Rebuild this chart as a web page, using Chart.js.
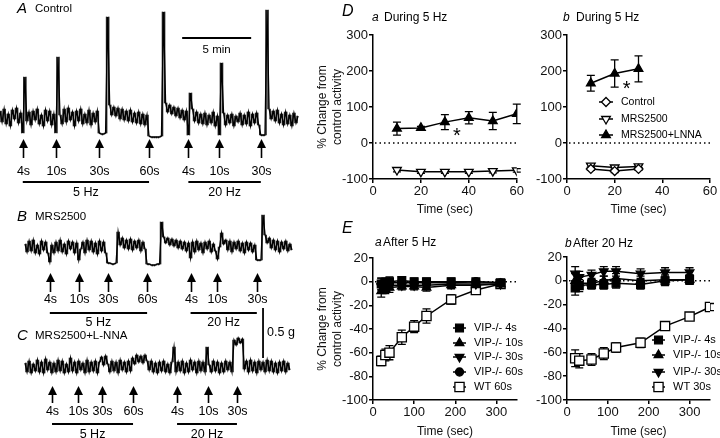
<!DOCTYPE html>
<html>
<head>
<meta charset="utf-8">
<script src="https://cdn.jsdelivr.net/npm/chart.js@4.4.1/dist/chart.umd.min.js"></script>
<style>
    html, body { margin: 0; padding: 0; background: #fff; }
    #wrap { position: relative; width: 720px; height: 438px; overflow: hidden; }
    canvas { position: absolute; }
</style>
</head>
<body>
<div id="wrap">
    <canvas id="traces" width="340" height="438" style="left:0;top:0;width:340px;height:438px"></canvas>
    <canvas id="dA" width="214" height="220" style="left:311px;top:0;width:214px;height:220px"></canvas>
    <canvas id="dB" width="195" height="220" style="left:525px;top:0;width:195px;height:220px"></canvas>
    <canvas id="eA" width="214" height="218" style="left:311px;top:220px;width:214px;height:218px"></canvas>
    <canvas id="eB" width="195" height="218" style="left:525px;top:220px;width:195px;height:218px"></canvas>
</div>
<script>
// ---------- force traces (g, relative to resting tone), one sample every 0.15 min
const sampleStep = 0.15;
const controlStart = 0;
const controlTrace = [
    0.06, -0.05, 0.08, -0.07, 0.03, -0.09, 0.07, -0.02, 0.09, -0.06, 0.04,
    -0.16, 0.40,
    -0.04, 0.05, -0.08, 0.06, -0.03, 0.08, -0.07, 0.02, -0.09, 0.07, -0.04, 0.06, -0.08, 0.03,
    -0.16, 0.60,
    0.02, -0.07, 0.08, -0.05, 0.09, -0.03, 0.05, -0.09, 0.06, -0.04, 0.08, -0.07, 0.03, -0.06, 0.07, -0.08, 0.04, -0.05, 0.06,
    -0.16, -0.17, -0.17, -0.16,
    1.00,
    0.12, 0.02, 0.10, 0.01, 0.09, -0.02, 0.08, -0.03, 0.06, -0.04, 0.07, -0.05, 0.04, -0.06, 0.05, -0.07, 0.03, -0.08, 0.02,
    -0.19, -0.20, -0.20, -0.20, -0.20, -0.20, -0.19,
    1.05,
    0.14, 0.05, 0.12, 0.03, 0.10, 0.01, 0.09, -0.01, 0.07, -0.03, 0.06,
    -0.18, 0.24,
    0.08, -0.04, 0.05, -0.06, 0.03, -0.07, 0.04, -0.08, 0.02, -0.06, 0.05, -0.09, 0.01,
    -0.18, 0.54,
    0.04, -0.08, 0.02, -0.06, 0.03, -0.09, 0.01, -0.05, 0.04, -0.08, 0.02, -0.07, 0.05, -0.09, 0.03, -0.06, 0.04, -0.08,
    -0.18, -0.18, -0.18,
    1.07,
    0.08, -0.02, 0.06, -0.04, 0.07, -0.06, 0.03, -0.08, 0.05, -0.07, 0.02, -0.09, 0.04, -0.06, 0.01
];
const mrsStart = 1.81;
const mrsTrace = [
    0.03, -0.05, 0.06, -0.04, 0.07, -0.06, 0.02, -0.07, 0.06, -0.03, 0.05, -0.06,
    -0.15,
    0.02, -0.06, 0.05, -0.04, 0.07, -0.05, 0.03, -0.07, 0.06, -0.02, 0.05, -0.06, 0.04,
    -0.13,
    -0.02, 0.05, -0.06, 0.07, -0.03, 0.06, -0.05, 0.04, -0.07, 0.06, -0.04, 0.05, -0.06,
    -0.16, -0.16, -0.17, -0.17, -0.16,
    0.15,
    0.02, 0.09, -0.01, 0.07, -0.02, 0.08, -0.03, 0.06, -0.01, 0.07, -0.04, 0.05, -0.02,
    -0.17, -0.17, -0.18, -0.18, -0.18, -0.17, -0.17,
    0.25,
    0.10, 0.04, 0.09, 0.02, 0.08, 0.01, 0.07, -0.01, 0.06, -0.02, 0.05, -0.04, 0.04,
    -0.11,
    0.05, -0.05, 0.06, -0.03, 0.04, -0.06, 0.05, -0.02, 0.06, -0.05, 0.03, -0.04,
    -0.12, 0.00, 0.14,
    0.03, 0.07, -0.03, 0.06, -0.05, 0.05, -0.02, 0.06, -0.04, 0.04, -0.06, 0.05, -0.03, 0.04, -0.05, 0.02,
    -0.13, -0.13, -0.13,
    0.32,
    0.12, 0.04, 0.09, -0.01, 0.07, -0.03, 0.06, -0.05, 0.05, -0.02, 0.06, -0.04, 0.03, -0.03
];
const lnnaStart = 1.81;
const lnnaTrace = [
    0.04, -0.05, 0.06, -0.06, 0.03, -0.04, 0.07, -0.05, 0.05, -0.06, 0.08, -0.03, 0.05, -0.06, 0.04, -0.05,
    0.07, -0.04, 0.06, -0.06, 0.03, -0.05, 0.09, -0.04, 0.05, -0.06, 0.06, -0.03, 0.04, -0.06, 0.07, -0.05,
    0.05, -0.04, 0.06, -0.06, 0.05,
    0.10, 0.02, 0.11, 0.03,
    -0.05, 0.06, -0.04, 0.05, -0.06, 0.07, -0.03, 0.05, -0.05, 0.06, -0.04,
    0.09, 0.03, 0.12, 0.05, 0.11, 0.04, 0.12, 0.06,
    -0.03, 0.06, -0.05, 0.04, -0.06, 0.05, -0.04, 0.06, -0.05, 0.03, -0.06, 0.05,
    0.20,
    -0.05, 0.05, -0.04, 0.06, -0.06, 0.04, -0.05, 0.07, -0.03, 0.05, -0.06, 0.06, -0.04, 0.05, -0.05,
    0.20,
    0.02, -0.05, 0.06, -0.04, 0.05, -0.06, 0.04, -0.05, 0.06, -0.03, 0.05, -0.05,
    0.27, 0.22, 0.29, 0.24, 0.28,
    -0.02, 0.06, -0.05, 0.07, -0.04, 0.05, -0.06, 0.06, -0.03, 0.05, -0.05, 0.07, -0.04, 0.06, -0.05, 0.04,
    -0.06, 0.05, -0.04, 0.06, -0.05, 0.04, -0.03
];
// stimulus onsets (min)
const controlStims = [1.65, 4.05, 7.2, 10.8, 13.65, 15.9, 18.9];
const mrsStims = [3.61, 5.71, 7.81, 10.66, 13.81, 15.76, 18.61];
const lnnaStims = [3.77, 5.65, 7.39, 9.64, 12.83, 15.07, 17.17];
const stimLabels = ['4s', '10s', '30s', '60s', '4s', '10s', '30s'];
const freqGroups = [[0, 3, '5 Hz'], [4, 6, '20 Hz']];

// ---------- D: responses during stimulation
const dTimesA = [10, 20, 30, 40, 50, 60];
const dA_mrs = [-75, -80, -80, -80, -78, -76];
const dA_mrsErr = [5, 4, 4, 4, 5, 5];
const dA_lnna = [40, 42, 58, 70, 61, 81];
const dA_lnnaErr = [18, 4, 21, 17, 24, 27];
const dTimesB = [10, 20, 30];
const dB_ctrl = [-72, -78, -72];
const dB_ctrlErr = [4, 4, 4];
const dB_mrs = [-63, -68, -65];
const dB_mrsErr = [4, 4, 4];
const dB_lnna = [166, 193, 206];
const dB_lnnaErr = [22, 38, 36];
const dXTicks = [0, 20, 40, 60];
const dYTicks = [-100, 0, 100, 200, 300];

// ---------- E: responses after stimulation
const eTimesA = [20, 30, 40, 70, 100, 130, 190, 250, 310];
const eA_vip4 = [-2, -1, 0, 1, 0, 0, 0, 0, -1];
const eA_vip10 = [-8, -6, -5, -4, -4, -5, -3, -3, -2];
const eA_vip30 = [-4, -4, -3, -3, -3, -3, -2, -2, -2];
const eA_vip60 = [-2, -2, -1, -1, -1, -1, -1, 0, -1];
const eA_vipErr = [5, 4, 4, 3, 3, 3, 3, 2, 2];
const eA_wt = [-67, -62, -60, -47, -38, -29, -15, -7, -2];
const eA_wtErr = [4, 5, 6, 6, 5, 6, 4, 3, 2];
const eTimesB = [20, 30, 60, 90, 120, 180, 240, 300];
const eB_vip4 = [-6, -4, -3, -3, -2, -3, 0, 1];
const eB_vip10 = [0, -2, -2, 0, 2, 0, 1, 1];
const eB_vip30 = [6, 3, 5, 8, 8, 6, 7, 7];
const eB_vipErr = [6, 5, 4, 4, 4, 4, 4, 4];
const eTimesB_wt = [20, 30, 60, 90, 120, 180, 240, 300, 350];
const eB_wt = [-65, -67, -66, -61, -56, -52, -38, -30, -22];
const eB_wtErr = [7, 6, 5, 5, 4, 4, 3, 3, 3];
const eXTicks = [0, 100, 200, 300];
const eYTicks = [-100, -80, -60, -40, -20, 0, 20];

const FONT = '"Liberation Sans", Arial, sans-serif';
Chart.defaults.font.family = FONT;
Chart.defaults.color = '#111';

// ---------- left: traces
const toPoints = (start, values) => values.map((v, i) => ({ x: start + i * sampleStep, y: v }));
// span covered by each step of the pen (thin strokes make the noise read as a dense band)
const toSpans = (start, values) => values.slice(1).map((v, i) => ({
    x: start + (i + 0.5) * sampleStep,
    y: [Math.min(v, values[i]), Math.max(v, values[i])]
}));

const traceNotes = [
    { axis: 'yA', letter: 'A', name: 'Control', lx: 17, ly: 9, stims: controlStims,
      tip: -0.23, tail: -0.41, label: -0.55, bar: -0.65, barLabel: -0.76 },
    { axis: 'yB', letter: 'B', name: 'MRS2500', lx: 17, ly: 217, stims: mrsStims,
      tip: -0.27, tail: -0.45, label: -0.53, bar: -0.66, barLabel: -0.76 },
    { axis: 'yC', letter: 'C', name: 'MRS2500+L-NNA', lx: 17, ly: 336, stims: lnnaStims,
      tip: -0.20, tail: -0.36, label: -0.45, bar: -0.57, barLabel: -0.68 }
];

const traceDeco = {
    id: 'traceDeco',
    afterDatasetsDraw(chart) {
        const ctx = chart.ctx;
        const xs = chart.scales.x;
        ctx.save();
        ctx.fillStyle = '#000';
        ctx.strokeStyle = '#000';
        traceNotes.forEach((n) => {
            const ys = chart.scales[n.axis];
            ctx.textBaseline = 'middle';
            ctx.textAlign = 'left';
            ctx.font = 'italic 15px ' + FONT;
            ctx.fillText(n.letter, n.lx, n.ly);
            ctx.font = '11.5px ' + FONT;
            ctx.fillText(n.name, n.lx + 18, n.ly);

            const tip = ys.getPixelForValue(n.tip);
            const tail = ys.getPixelForValue(n.tail);
            ctx.lineWidth = 1.6;
            ctx.textAlign = 'center';
            ctx.font = '12.5px ' + FONT;
            n.stims.forEach((t, i) => {
                const px = Math.round(xs.getPixelForValue(t)) + 0.5;
                ctx.beginPath();
                ctx.moveTo(px, tail);
                ctx.lineTo(px, tip + 5);
                ctx.stroke();
                ctx.beginPath();
                ctx.moveTo(px, tip - 1);
                ctx.lineTo(px - 4.5, tip + 8);
                ctx.lineTo(px + 4.5, tip + 8);
                ctx.closePath();
                ctx.fill();
                ctx.fillText(stimLabels[i], px, ys.getPixelForValue(n.label));
            });
            const by = ys.getPixelForValue(n.bar);
            ctx.lineWidth = 1.8;
            freqGroups.forEach(([a, b, txt]) => {
                const x0 = xs.getPixelForValue(n.stims[a]);
                const x1 = xs.getPixelForValue(n.stims[b]);
                ctx.beginPath();
                ctx.moveTo(x0, by);
                ctx.lineTo(x1, by);
                ctx.stroke();
                ctx.fillText(txt, (x0 + x1) / 2, ys.getPixelForValue(n.barLabel));
            });
        });

        // calibration bars: 5 min and 0.5 g
        const yA = chart.scales.yA;
        const yC = chart.scales.yC;
        const t0 = 13.2;
        const ty = yA.getPixelForValue(0.79);
        ctx.lineWidth = 1.8;
        ctx.beginPath();
        ctx.moveTo(xs.getPixelForValue(t0), ty);
        ctx.lineTo(xs.getPixelForValue(t0 + 5), ty);
        ctx.stroke();
        ctx.font = '11.5px ' + FONT;
        ctx.fillText('5 min', xs.getPixelForValue(t0 + 2.5), ty + 12);
        const gx = xs.getPixelForValue(19.06);
        ctx.beginPath();
        ctx.moveTo(gx, yC.getPixelForValue(0.09));
        ctx.lineTo(gx, yC.getPixelForValue(0.59));
        ctx.stroke();
        ctx.textAlign = 'left';
        ctx.font = '12.5px ' + FONT;
        ctx.fillText('0.5 g', gx + 4, yC.getPixelForValue(0.34));
        ctx.restore();
    }
};

const traceLine = (data, yAxisID) => ({
    type: 'line', data, yAxisID, xAxisID: 'x',
    borderColor: '#000', borderWidth: 1.3, pointRadius: 0, tension: 0, fill: false
});
const traceSpan = (data, yAxisID) => ({
    type: 'bar', data, yAxisID, xAxisID: 'x',
    backgroundColor: '#222', borderWidth: 0, barThickness: 0.9, minBarLength: 1, grouped: false
});

new Chart(document.getElementById('traces'), {
    type: 'line',
    data: {
        datasets: [
            traceLine(toPoints(controlStart, controlTrace), 'yA'),
            traceLine(toPoints(mrsStart, mrsTrace), 'yB'),
            traceLine(toPoints(lnnaStart, lnnaTrace), 'yC'),
            traceSpan(toSpans(controlStart, controlTrace), 'yA'),
            traceSpan(toSpans(mrsStart, mrsTrace), 'yB'),
            traceSpan(toSpans(lnnaStart, lnnaTrace), 'yC')
        ]
    },
    options: {
        responsive: false, animation: false, devicePixelRatio: 1,
        layout: { padding: 0 },
        plugins: { legend: { display: false }, tooltip: { enabled: false } },
        scales: {
            x: { type: 'linear', display: false, offset: false, min: 0, max: 340 / 13.8 },
            yA: { type: 'linear', display: false, min: -3.21, max: 1.17 },
            yB: { type: 'linear', display: false, min: -1.91, max: 2.47 },
            yC: { type: 'linear', display: false, min: -0.71, max: 3.67 }
        }
    },
    plugins: [traceDeco]
});

// ---------- right: summary graphs
const marks = {
    upFilled: { shape: 'triangle', rot: 0, fill: '#000', r: 5 },
    downOpen: { shape: 'triangle', rot: 180, fill: '#fff', r: 5 },
    downFilled: { shape: 'triangle', rot: 180, fill: '#000', r: 5 },
    diamondOpen: { shape: 'rectRot', rot: 0, fill: '#fff', r: 4.5 },
    squareFilled: { shape: 'rect', rot: 0, fill: '#000', r: 5.5 },
    squareOpen: { shape: 'rect', rot: 0, fill: '#fff', r: 6.5 },
    circleFilled: { shape: 'circle', rot: 0, fill: '#000', r: 4 }
};

const series = (label, xs, ys, errs, m) => ({
    label,
    data: xs.map((x, i) => ({ x, y: ys[i] })),
    errors: errs,
    mark: m,
    borderColor: '#000', borderWidth: 1.5, tension: 0, fill: false,
    pointStyle: m.shape, pointRotation: m.rot, pointRadius: m.r,
    pointBackgroundColor: m.fill, pointBorderColor: '#000', pointBorderWidth: 1.3
});

const errorBars = {
    id: 'errorBars',
    beforeDatasetsDraw(chart) {
        const ctx = chart.ctx;
        const xs = chart.scales.x, ys = chart.scales.y;
        ctx.save();
        ctx.strokeStyle = '#000';
        ctx.lineWidth = 1.3;
        chart.data.datasets.forEach((ds) => {
            ds.data.forEach((p, i) => {
                const e = ds.errors[i];
                const px = xs.getPixelForValue(p.x);
                const top = ys.getPixelForValue(p.y + e);
                const bot = ys.getPixelForValue(p.y - e);
                ctx.beginPath();
                ctx.moveTo(px, top); ctx.lineTo(px, bot);
                ctx.moveTo(px - 4, top); ctx.lineTo(px + 4, top);
                ctx.moveTo(px - 4, bot); ctx.lineTo(px + 4, bot);
                ctx.stroke();
            });
        });
        ctx.restore();
    }
};

const panelDeco = {
    id: 'panelDeco',
    beforeDatasetsDraw(chart, args, o) {
        // dotted zero line
        const ctx = chart.ctx;
        const ys = chart.scales.y;
        const y0 = ys.getPixelForValue(0);
        ctx.save();
        ctx.strokeStyle = '#000';
        ctx.lineWidth = 1.5;
        ctx.setLineDash([1.5, 3]);
        ctx.beginPath();
        ctx.moveTo(chart.chartArea.left + 2, y0);
        ctx.lineTo(chart.chartArea.right, y0);
        ctx.stroke();
        ctx.restore();
    },
    afterDatasetsDraw(chart, args, o) {
        const ctx = chart.ctx;
        const xs = chart.scales.x, ys = chart.scales.y;
        ctx.save();
        ctx.fillStyle = '#000';
        ctx.textBaseline = 'middle';
        ctx.textAlign = 'left';
        if (o.letter) {
            ctx.font = 'italic 16px ' + FONT;
            ctx.fillText(o.letter[0], o.letter[1], o.letter[2]);
        }
        ctx.font = 'italic 12px ' + FONT;
        ctx.fillText(o.title[0], o.title[2], o.title[3]);
        ctx.font = '12px ' + FONT;
        ctx.fillText(o.title[1], o.title[4], o.title[3]);

        (o.stars || []).forEach(([sx, sy]) => {
            ctx.font = '20px ' + FONT;
            ctx.textAlign = 'center';
            ctx.fillText('*', xs.getPixelForValue(sx), ys.getPixelForValue(sy) + 4);
        });

        const lg = o.legend;
        if (lg) {
            ctx.textAlign = 'left';
            ctx.font = lg.size + 'px ' + FONT;
            lg.items.forEach((di, k) => {
                const ds = chart.data.datasets[di];
                const y = lg.rows[k];
                ctx.strokeStyle = '#000';
                ctx.lineWidth = 1.5;
                ctx.beginPath();
                ctx.moveTo(lg.x, y); ctx.lineTo(lg.x + lg.len, y);
                ctx.stroke();
                ctx.fillStyle = ds.mark.fill;
                ctx.lineWidth = 1.3;
                Chart.helpers.drawPoint(ctx, { pointStyle: ds.mark.shape, rotation: ds.mark.rot, radius: ds.mark.r, borderWidth: 1.3 },
                    lg.x + lg.len / 2, y);
                ctx.fillStyle = '#000';
                ctx.fillText(ds.label, lg.x + lg.len + 8, y);
            });
        }
        ctx.restore();
    }
};

function buildPanel(id, c) {
    return new Chart(document.getElementById(id), {
        type: 'line',
        data: { datasets: c.datasets },
        options: {
            responsive: false, animation: false, devicePixelRatio: 1,
            layout: { padding: c.padding },
            plugins: { legend: { display: false }, tooltip: { enabled: false }, panelDeco: c.deco },
            scales: {
                x: {
                    type: 'linear', min: 0, max: c.xMax,
                    afterBuildTicks: (s) => { s.ticks = c.xTicks.map((v) => ({ value: v })); },
                    afterFit: (s) => { s.height = c.xHeight; },
                    ticks: { font: { size: 13 }, color: '#111', padding: 1, maxRotation: 0 },
                    grid: { drawOnChartArea: false, drawTicks: true, tickLength: 4, color: '#000', lineWidth: 1.5 },
                    border: { display: true, color: '#000', width: 1.5 },
                    title: { display: true, text: 'Time (sec)', font: { size: 12, lineHeight: 1.0 }, color: '#111',
                        padding: { top: 0, bottom: c.xTitlePad } }
                },
                y: {
                    type: 'linear', min: c.yMin, max: c.yMax,
                    afterBuildTicks: (s) => { s.ticks = c.yTicks.map((v) => ({ value: v })); },
                    afterFit: (s) => { s.width = c.yWidth; },
                    ticks: { font: { size: 13 }, color: '#111', padding: 1 },
                    grid: { drawOnChartArea: false, drawTicks: true, tickLength: 4, color: '#000', lineWidth: 1.5 },
                    border: { display: true, color: '#000', width: 1.5 },
                    title: c.yTitle
                        ? { display: true, text: ['% Change from', 'control activity'], font: { size: 12, lineHeight: 1.25 },
                            color: '#111', padding: { top: 4, bottom: 0 } }
                        : { display: false }
                }
            }
        },
        plugins: [errorBars, panelDeco]
    });
}

buildPanel('dA', {
    datasets: [
        series('MRS2500', dTimesA, dA_mrs, dA_mrsErr, marks.downOpen),
        series('MRS2500+LNNA', dTimesA, dA_lnna, dA_lnnaErr, marks.upFilled)
    ],
    padding: { top: 35, right: 8, left: 0, bottom: 0 },
    xMax: 60, xTicks: dXTicks, xHeight: 41, xTitlePad: 4,
    yMin: -100, yMax: 300, yTicks: dYTicks, yWidth: 62, yTitle: true,
    deco: { letter: ['D', 31, 12], title: ['a', 'During 5 Hz', 61, 18, 73], stars: [[35, 28]] }
});

buildPanel('dB', {
    datasets: [
        series('Control', dTimesB, dB_ctrl, dB_ctrlErr, marks.diamondOpen),
        series('MRS2500', dTimesB, dB_mrs, dB_mrsErr, marks.downOpen),
        series('MRS2500+LNNA', dTimesB, dB_lnna, dB_lnnaErr, marks.upFilled)
    ],
    padding: { top: 35, right: 10, left: 0, bottom: 0 },
    xMax: 60, xTicks: dXTicks, xHeight: 41, xTitlePad: 4,
    yMin: -100, yMax: 300, yTicks: dYTicks, yWidth: 42, yTitle: false,
    deco: { title: ['b', 'During 5 Hz', 38, 18, 51], stars: [[25, 161]],
        legend: { x: 74, len: 14, size: 10.5, rows: [102, 119, 135], items: [0, 1, 2] } }
});

buildPanel('eA', {
    datasets: [
        series('VIP-/- 4s', eTimesA, eA_vip4, eA_vipErr, marks.squareFilled),
        series('VIP-/- 10s', eTimesA, eA_vip10, eA_vipErr, marks.upFilled),
        series('VIP-/- 30s', eTimesA, eA_vip30, eA_vipErr, marks.downFilled),
        series('VIP-/- 60s', eTimesA, eA_vip60, eA_vipErr, marks.circleFilled),
        series('WT 60s', eTimesA, eA_wt, eA_wtErr, marks.squareOpen)
    ],
    padding: { top: 38, right: 8, left: 0, bottom: 0 },
    xMax: 350, xTicks: eXTicks, xHeight: 38, xTitlePad: 0,
    yMin: -100, yMax: 20, yTicks: eYTicks, yWidth: 62, yTitle: true,
    deco: { letter: ['E', 31, 9], title: ['a', 'After 5 Hz', 64, 23, 72],
        legend: { x: 142, len: 13, size: 11, rows: [108, 123, 137, 152, 167], items: [0, 1, 2, 3, 4] } }
});

buildPanel('eB', {
    datasets: [
        series('VIP-/- 4s', eTimesB, eB_vip4, eB_vipErr, marks.squareFilled),
        series('VIP-/- 10s', eTimesB, eB_vip10, eB_vipErr, marks.upFilled),
        series('VIP-/- 30s', eTimesB, eB_vip30, eB_vipErr, marks.downFilled),
        series('WT 30s', eTimesB_wt, eB_wt, eB_wtErr, marks.squareOpen)
    ],
    padding: { top: 37, right: 10, left: 0, bottom: 0 },
    xMax: 350, xTicks: eXTicks, xHeight: 38, xTitlePad: 0,
    yMin: -100, yMax: 20, yTicks: eYTicks, yWidth: 42, yTitle: false,
    deco: { title: ['b', 'After 20 Hz', 40, 24, 48],
        legend: { x: 127, len: 13, size: 11, rows: [120, 135, 152, 167], items: [0, 1, 2, 3] } }
});
</script>
</body>
</html>
